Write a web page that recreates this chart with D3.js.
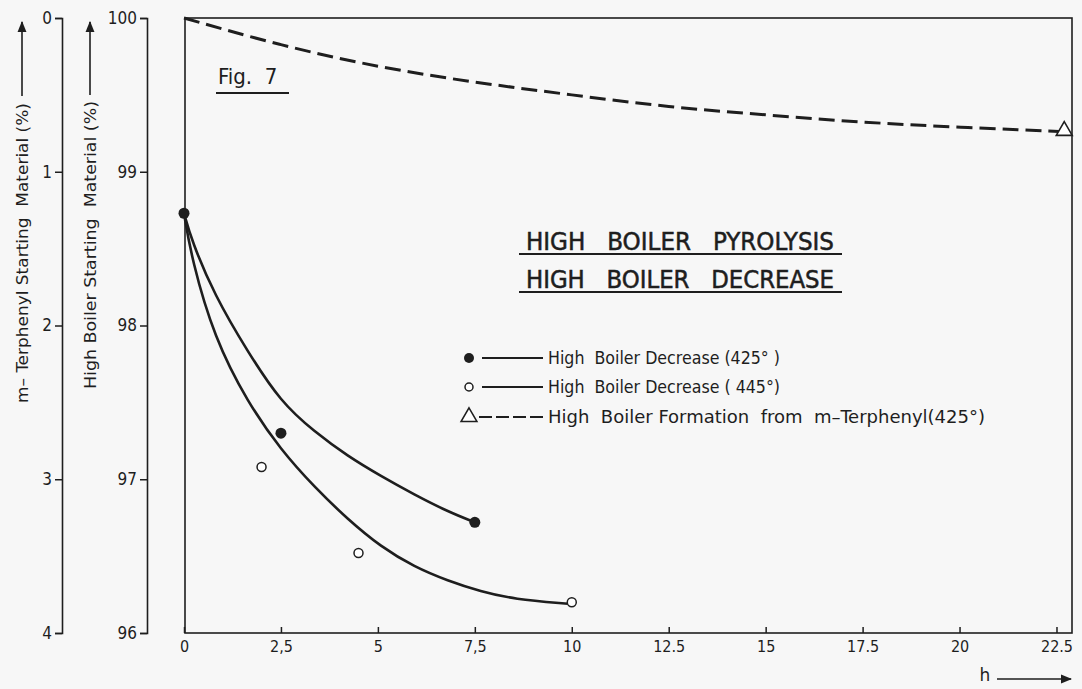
<!DOCTYPE html>
<html>
<head>
<meta charset="utf-8">
<script src="https://cdn.jsdelivr.net/npm/d3@7"></script>
<style>
  body { margin: 0; background: #f7f7f7; }
  svg { display: block; }
  text { font-family: "DejaVu Sans", sans-serif; fill: #1e1e1e; white-space: pre; }
  .tick line, .domain { stroke: #1e1e1e; }
  .narrow { font-stretch: condensed; font-family: "DejaVu Sans Condensed", "DejaVu Sans", sans-serif; }
</style>
</head>
<body>
<div id="chart"></div>
<script>
var svgWidth = 1082;
var svgHeight = 689;

// data
var hours = [0, 2.5, 5, 7.5, 10, 12.5, 15, 17.5, 20, 22.5];
var hourLabels = ["0", "2,5", "5", "7,5", "10", "12.5", "15", "17.5", "20", "22.5"];
var boilerTicks = [96, 97, 98, 99, 100];
var terphenylTicks = [0, 1, 2, 3, 4];

// measured points, 425 deg (filled) and 445 deg (open)
var pts425 = [[0, 98.73], [2.5, 97.30], [7.5, 96.72]];
var pts445 = [[2.0, 97.08], [4.5, 96.52], [10.0, 96.20]];
// triangle at end of m-terphenyl curve
var ptsFormation = [[22.7, 99.26]];

// fitted curves as drawn
var curve425 = [[0, 98.73], [0.2, 98.55], [0.78, 98.20], [1.64, 97.83], [2.5, 97.50], [3.36, 97.31],
  [4.22, 97.15], [5.08, 97.02], [5.94, 96.90], [6.8, 96.79], [7.5, 96.72]];
var curve445 = [[0, 98.73], [0.2, 98.43], [0.78, 97.92], [1.64, 97.50], [2.5, 97.19], [3.36, 96.95],
  [4.22, 96.74], [5.08, 96.56], [5.94, 96.43], [6.8, 96.34], [7.65, 96.27], [8.51, 96.22], [9.9, 96.19]];
var curveFormation = [[0, 100], [2.5, 99.82], [5, 99.68], [7.5, 99.58], [10, 99.50], [12.5, 99.42],
  [15, 99.37], [17.5, 99.32], [20, 99.29], [22.7, 99.26]];

var legendLabels = ["High  Boiler Decrease (425° )", "High  Boiler Decrease ( 445°)",
  "High  Boiler Formation  from  m–Terphenyl(425°)"];

var svg = d3.select("#chart")
  .append("svg")
  .attr("width", svgWidth)
  .attr("height", svgHeight);

var defs = svg.append("defs");
defs.append("marker")
  .attr("id", "arrow")
  .attr("viewBox", "0 0 10 10")
  .attr("refX", 9)
  .attr("refY", 5)
  .attr("markerWidth", 7)
  .attr("markerHeight", 7)
  .attr("orient", "auto")
  .append("path")
  .attr("d", "M0,1 L10,5 L0,9 Z")
  .attr("fill", "#1e1e1e");

var xScale = d3.scaleLinear().domain([0, 22.9]).range([184, 1072]);
var yScale = d3.scaleLinear().domain([96, 100]).range([633, 18]);
var tScale = d3.scaleLinear().domain([0, 4]).range([18, 633]);

// plot frame
svg.append("rect")
  .attr("x", xScale(0) + 1)
  .attr("y", yScale(100))
  .attr("width", xScale(22.9) - xScale(0) - 1)
  .attr("height", yScale(96) - yScale(100))
  .attr("fill", "none")
  .attr("stroke", "#1e1e1e")
  .attr("stroke-width", 1.6);

// bottom axis, ticks pointing inward
var xAxis = svg.append("g")
  .attr("transform", `translate(0, ${yScale(96)})`)
  .call(d3.axisBottom(xScale)
    .tickValues(hours)
    .tickSize(-6)
    .tickPadding(8)
    .tickFormat((d, i) => hourLabels[i]));
xAxis.select(".domain").remove();
xAxis.selectAll("text").attr("font-size", 16).attr("dy", "0.71em").attr("class", "narrow");
xAxis.selectAll(".tick line").attr("stroke-width", 1.5);

// left axes
var boilerAxis = svg.append("g")
  .attr("transform", "translate(147, 0)")
  .call(d3.axisLeft(yScale).tickValues(boilerTicks).tickSize(7).tickPadding(3).tickFormat(d3.format("d")));
var terphAxis = svg.append("g")
  .attr("transform", "translate(62, 0)")
  .call(d3.axisLeft(tScale).tickValues(terphenylTicks).tickSize(7).tickPadding(3).tickFormat(d3.format("d")));
[boilerAxis, terphAxis].forEach(function(ax) {
  ax.selectAll("text").attr("font-size", 17).attr("class", "narrow");
  ax.select(".domain").attr("stroke-width", 1.6);
  ax.selectAll(".tick line").attr("stroke-width", 1.5);
});

// axis titles with arrows
function axisTitle(x, label, yTextEnd, yArrowStart, len) {
  svg.append("text")
    .attr("transform", `translate(${x}, ${yTextEnd}) rotate(-90)`)
    .attr("text-anchor", "end")
    .attr("dy", "0.35em")
    .attr("font-size", 16)
    .attr("textLength", len)
    .attr("lengthAdjust", "spacingAndGlyphs")
    .attr("class", "narrow")
    .text(label);
  svg.append("line")
    .attr("x1", x).attr("x2", x)
    .attr("y1", yArrowStart).attr("y2", 22)
    .attr("stroke", "#1e1e1e")
    .attr("stroke-width", 1.6)
    .attr("marker-end", "url(#arrow)");
}
axisTitle(22, "m– Terphenyl Starting  Material (%)", 103, 96, 300);
axisTitle(90, "High Boiler Starting  Material (%)", 101, 95, 288);

// h arrow
svg.append("text")
  .attr("x", 985)
  .attr("y", 681)
  .attr("text-anchor", "middle")
  .attr("font-size", 17)
  .text("h");
svg.append("line")
  .attr("x1", 997).attr("x2", 1071)
  .attr("y1", 679).attr("y2", 679)
  .attr("stroke", "#1e1e1e")
  .attr("stroke-width", 1.6)
  .attr("marker-end", "url(#arrow)");

// curves
var line = d3.line()
  .x(d => xScale(d[0]))
  .y(d => yScale(d[1]))
  .curve(d3.curveBasis);

svg.append("path")
  .datum(curveFormation)
  .attr("d", line)
  .attr("fill", "none")
  .attr("stroke", "#1e1e1e")
  .attr("stroke-width", 3)
  .attr("stroke-dasharray", "16,7");

svg.append("path")
  .datum(curve425)
  .attr("d", line)
  .attr("fill", "none")
  .attr("stroke", "#1e1e1e")
  .attr("stroke-width", 2.6);

svg.append("path")
  .datum(curve445)
  .attr("d", line)
  .attr("fill", "none")
  .attr("stroke", "#1e1e1e")
  .attr("stroke-width", 2.6);

// points
svg.selectAll(".filled")
  .data(pts425)
  .enter()
  .append("circle")
  .attr("cx", d => xScale(d[0]))
  .attr("cy", d => yScale(d[1]))
  .attr("r", 5.5)
  .attr("fill", "#1e1e1e");

svg.selectAll(".open")
  .data(pts445)
  .enter()
  .append("circle")
  .attr("cx", d => xScale(d[0]))
  .attr("cy", d => yScale(d[1]))
  .attr("r", 4.5)
  .attr("fill", "#fff")
  .attr("stroke", "#1e1e1e")
  .attr("stroke-width", 1.5);

var triangle = d3.symbol().type(d3.symbolTriangle).size(110);
svg.selectAll(".tri")
  .data(ptsFormation)
  .enter()
  .append("path")
  .attr("d", triangle)
  .attr("transform", d => `translate(${xScale(d[0])}, ${yScale(d[1]) - 1})`)
  .attr("fill", "#fff")
  .attr("stroke", "#1e1e1e")
  .attr("stroke-width", 1.6);

// Fig. 7 label
svg.append("text")
  .attr("x", 218)
  .attr("y", 84)
  .attr("font-size", 22)
  .attr("class", "narrow")
  .text("Fig.  7");
svg.append("line")
  .attr("x1", 216).attr("x2", 289)
  .attr("y1", 93).attr("y2", 93)
  .attr("stroke", "#1e1e1e")
  .attr("stroke-width", 2);

// title block
var titles = ["HIGH   BOILER   PYROLYSIS", "HIGH   BOILER   DECREASE"];
var titleGroup = svg.append("g");
titles.forEach(function(t, i) {
  titleGroup.append("text")
    .attr("x", 680)
    .attr("y", 250 + i * 38)
    .attr("text-anchor", "middle")
    .attr("font-size", 24)
    .attr("textLength", 308)
    .attr("lengthAdjust", "spacingAndGlyphs")
    .attr("class", "narrow")
    .style("stroke", "#1e1e1e")
    .style("stroke-width", 0.5)
    .text(t);
  titleGroup.append("line")
    .attr("x1", 519).attr("x2", 842)
    .attr("y1", 254 + i * 38).attr("y2", 254 + i * 38)
    .attr("stroke", "#1e1e1e")
    .attr("stroke-width", 2.2);
});

// legend
var legend = svg.append("g");
var legendY = [358, 387, 417];
var legendLen = [232, 232, 437];
legendLabels.forEach(function(lbl, i) {
  var y = legendY[i];
  if (i === 0) {
    legend.append("circle").attr("cx", 469).attr("cy", y).attr("r", 5).attr("fill", "#1e1e1e");
  } else if (i === 1) {
    legend.append("circle").attr("cx", 469).attr("cy", y).attr("r", 4).attr("fill", "#fff")
      .attr("stroke", "#1e1e1e").attr("stroke-width", 1.5);
  } else {
    legend.append("path").attr("d", triangle).attr("transform", `translate(469, ${y})`)
      .attr("fill", "#fff").attr("stroke", "#1e1e1e").attr("stroke-width", 1.5);
  }
  legend.append("line")
    .attr("x1", i === 2 ? 479 : 482).attr("x2", 543)
    .attr("y1", y).attr("y2", y)
    .attr("stroke", "#1e1e1e")
    .attr("stroke-width", 2)
    .attr("stroke-dasharray", i === 2 ? "13,4" : null);
  legend.append("text")
    .attr("x", 548)
    .attr("y", y)
    .attr("dy", "0.35em")
    .attr("font-size", 17)
    .attr("textLength", legendLen[i])
    .attr("lengthAdjust", "spacingAndGlyphs")
    .attr("class", "narrow")
    .text(lbl);
});
</script>
</body>
</html>
